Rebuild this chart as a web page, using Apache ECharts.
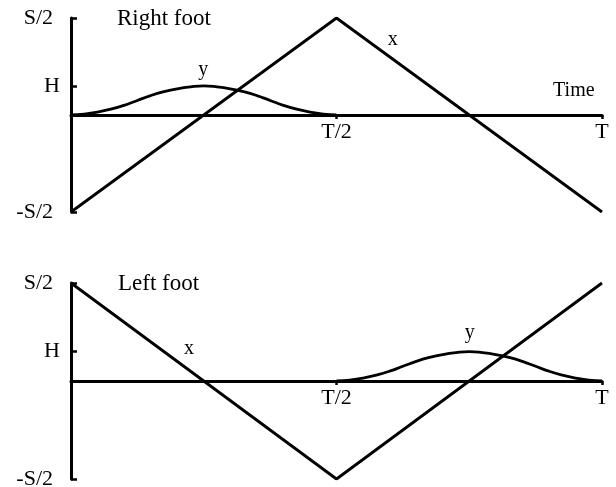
<!DOCTYPE html>
<html>
<head>
<meta charset="utf-8">
<script src="https://cdn.jsdelivr.net/npm/echarts@6/dist/echarts.min.js"></script>
<style>
html,body{margin:0;padding:0;background:#fff;}
#chart{width:616px;height:487px;}
</style>
</head>
<body>
<div id="chart"></div>
<script>
// time in units of T, height in units of S/2
var timeTicks = [0.5, 1];
var timeLabels = {0.5: 'T/2', 1: 'T'};
var levelTicks = [-1, 0.3, 1];
var levelLabels = {'-1': '{s|-S/2}', '0.3': 'H', '1': '{s|S/2}'};

var rightX = [[0, -1], [0.5, 1], [1, -1]];
var rightY = [[0, 0], [0.025, 0.01], [0.05, 0.03], [0.075, 0.06], [0.1, 0.10], [0.125, 0.15],
              [0.15, 0.20], [0.175, 0.24], [0.2, 0.27], [0.225, 0.29], [0.25, 0.30],
              [0.275, 0.29], [0.3, 0.27], [0.325, 0.24], [0.35, 0.20], [0.375, 0.15],
              [0.4, 0.10], [0.425, 0.06], [0.45, 0.03], [0.475, 0.01], [0.5, 0]];
var leftX = [[0, 1], [0.5, -1], [1, 1]];
var leftY = [[0.5, 0], [0.525, 0.01], [0.55, 0.03], [0.575, 0.06], [0.6, 0.10], [0.625, 0.15],
             [0.65, 0.20], [0.675, 0.24], [0.7, 0.27], [0.725, 0.29], [0.75, 0.30],
             [0.775, 0.29], [0.8, 0.27], [0.825, 0.24], [0.85, 0.20], [0.875, 0.15],
             [0.9, 0.10], [0.925, 0.06], [0.95, 0.03], [0.975, 0.01], [1, 0]];

// curve names placed in data space
var rightNotes = [{name: 'y', value: [0.249, 0.47]}, {name: 'x', value: [0.606, 0.78]}, {name: 'Time', value: [0.947, 0.25]}];
var leftNotes = [{name: 'x', value: [0.222, 0.33]}, {name: 'y', value: [0.751, 0.49]}];

var FONT = 'Liberation Serif';
var ink = '#000';

// the time axis sits on the zero level, half a grid up from the bottom
function xAxisFor(idx, half){
    return {
        type: 'value', gridIndex: idx, min: 0, max: 1,
        position: 'bottom', offset: -half,
        axisLine: {onZero: false, lineStyle: {color: ink, width: 3}},
        axisTick: {show: true, customValues: timeTicks, length: 4, lineStyle: {color: ink, width: 2.5}},
        axisLabel: {customValues: timeTicks, margin: 6, color: ink, fontFamily: FONT, fontSize: 22,
            formatter: function(v){ return timeLabels[v] || ''; }},
        splitLine: {show: false}
    };
}
function yAxisFor(idx){
    return {
        type: 'value', gridIndex: idx, min: -1, max: 1,
        axisLine: {lineStyle: {color: ink, width: 3}},
        axisTick: {show: true, inside: true, customValues: levelTicks, length: 6, lineStyle: {color: ink, width: 2.5}},
        axisLabel: {customValues: levelTicks, margin: 11, color: ink, fontFamily: FONT, fontSize: 22,
            formatter: function(v){ return levelLabels[String(v)] || ''; },
            rich: {s: {fontFamily: FONT, fontSize: 22, color: ink, padding: [0, 7, 0, 0]}}},
        splitLine: {show: false}
    };
}
function curve(data, idx, smooth){
    return {type: 'line', xAxisIndex: idx, yAxisIndex: idx, data: data, smooth: smooth,
        symbol: 'none', lineStyle: {color: ink, width: 2.8}, silent: true, z: 3};
}
function notes(data, idx){
    return {type: 'scatter', xAxisIndex: idx, yAxisIndex: idx, data: data, symbolSize: 0,
        silent: true, itemStyle: {opacity: 1},
        label: {show: true, position: 'inside', formatter: '{b}', color: ink, fontFamily: FONT, fontSize: 20}};
}

var chart = echarts.init(document.getElementById('chart'));
chart.setOption({
    backgroundColor: '#fff',
    animation: false,
    title: [
        {text: 'Right foot', left: 117, top: 7, padding: 0,
            textStyle: {color: ink, fontFamily: FONT, fontSize: 23, fontWeight: 'normal'}},
        {text: 'Left foot', left: 118, top: 272, padding: 0,
            textStyle: {color: ink, fontFamily: FONT, fontSize: 23, fontWeight: 'normal'}}
    ],
    grid: [
        {left: 71, right: 14, top: 18, height: 194, outerBoundsMode: 'none'},
        {left: 71, right: 14, top: 283, height: 196, outerBoundsMode: 'none'}
    ],
    xAxis: [xAxisFor(0, 97), xAxisFor(1, 98)],
    yAxis: [yAxisFor(0), yAxisFor(1)],
    series: [
        curve(rightX, 0, false),
        curve(rightY, 0, true),
        notes(rightNotes, 0),
        curve(leftX, 1, false),
        curve(leftY, 1, true),
        notes(leftNotes, 1)
    ]
});
</script>
</body>
</html>
